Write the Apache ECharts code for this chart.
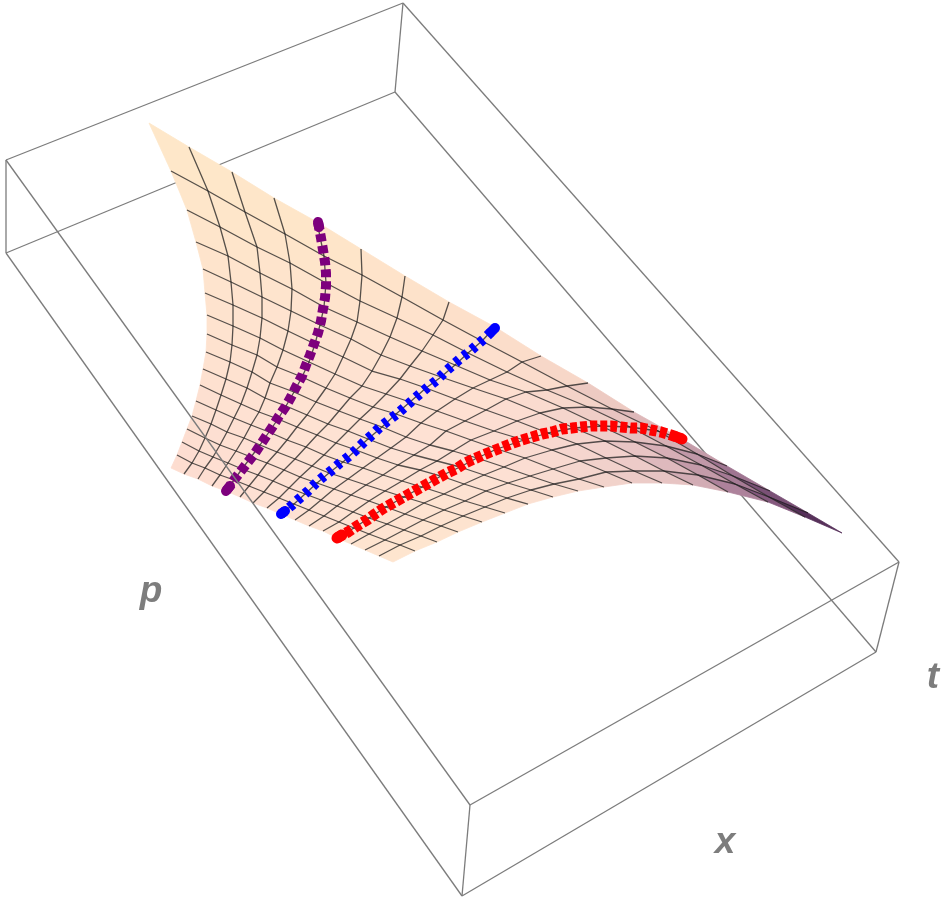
<!DOCTYPE html>
<html>
<head>
<meta charset="utf-8">
<style>
  html, body { margin: 0; padding: 0; background: #fff; }
  #chart { width: 941px; height: 901px; filter: blur(0.45px); }
</style>
<script src="https://cdn.jsdelivr.net/npm/echarts@6/dist/echarts.min.js"></script>
</head>
<body>
<div id="chart"></div>
<script>
// surface nodes, one row per constant v (v=16 down to v=0), u=0..16
const row16 = [[149,123],[189,147],[232,172],[274,198],[317,222],[361,249],[405,276],[449,302],[495,327],[541,356],[588,383],[634,412],[682,439],[727,466],[770,491],[808,513],[842,533]];
const row15 = [[171,171],[208,191],[245,212],[285,234],[324,256],[362,275],[402,297],[443,320],[482,341],[522,362],[567,386],[612,409],[658,431],[697,454],[733,476],[769,497],[805,517]];
const row14 = [[187,210],[220,227],[257,247],[290,263],[326,283],[360,301],[397,318],[433,335],[468,353],[507,372],[547,390],[588,407],[630,427],[666,446],[701,465],[735,484],[768,502]];
const row13 = [[196,242],[228,256],[260,273],[292,289],[324,307],[357,322],[390,337],[422,351],[455,365],[490,380],[526,392],[563,408],[601,426],[635,442],[667,458],[698,475],[728,492]];
const row12 = [[203,269],[231,282],[262,297],[291,311],[320,325],[351,339],[381,355],[410,366],[441,377],[473,388],[506,399],[540,413],[574,428],[605,441],[635,456],[664,471],[693,485]];
const row11 = [[205,293],[233,305],[262,318],[288,331],[315,344],[343,357],[372,371],[400,379],[426,388],[455,399],[486,410],[517,421],[548,433],[577,444],[606,458],[634,471],[662,483]];
const row10 = [[207,315],[233,326],[260,338],[283,350],[309,362],[335,374],[362,386],[386,394],[410,402],[437,411],[465,421],[494,431],[524,440],[552,450],[580,461],[606,472],[632,483]];
const row9 = [[207,334],[232,345],[257,355],[277,367],[302,377],[326,388],[350,398],[373,407],[396,414],[421,423],[446,431],[471,440],[497,449],[525,458],[553,469],[579,479],[604,487]];
const row8 = [[206,352],[230,362],[252,372],[270,383],[294,392],[316,402],[339,411],[360,419],[382,427],[406,437],[430,445],[453,451],[477,458],[504,467],[530,476],[554,484],[578,491]];
const row7 = [[203,369],[226,379],[247,388],[265,398],[286,406],[307,415],[328,424],[348,431],[368,439],[391,448],[414,455],[437,461],[460,467],[484,475],[508,483],[531,490],[553,497]];
const row6 = [[200,385],[221,395],[241,404],[259,412],[278,419],[297,427],[317,435],[336,443],[356,450],[377,458],[398,465],[420,470],[441,476],[464,484],[486,491],[507,498],[528,504]];
const row5 = [[196,401],[216,410],[234,418],[251,425],[269,432],[287,440],[306,447],[324,455],[343,462],[363,468],[383,475],[402,481],[422,487],[444,494],[465,501],[485,507],[505,513]];
const row4 = [[192,416],[211,424],[227,432],[244,438],[260,445],[277,452],[295,459],[312,466],[329,473],[348,479],[366,485],[385,491],[404,497],[424,503],[444,510],[463,516],[482,522]];
const row3 = [[187,429],[205,438],[220,445],[236,451],[251,457],[267,463],[284,470],[300,477],[317,483],[334,489],[351,495],[369,501],[386,507],[405,514],[423,520],[441,526],[458,532]];
const row2 = [[182,442],[199,451],[213,457],[228,463],[242,469],[258,475],[273,481],[289,488],[305,494],[321,500],[337,506],[353,512],[369,518],[387,524],[404,530],[421,536],[437,542]];
const row1 = [[177,455],[192,463],[205,468],[220,475],[234,480],[249,486],[264,492],[279,498],[294,504],[309,510],[324,516],[339,522],[354,528],[369,534],[385,540],[400,545],[415,551]];
const row0 = [[171,468],[184,474],[198,479],[212,486],[226,491],[240,497],[253,503],[267,508],[281,514],[295,520],[309,526],[323,531],[337,538],[351,544],[365,550],[379,556],[393,562]];
const surfaceRows = [row16,row15,row14,row13,row12,row11,row10,row9,row8,row7,row6,row5,row4,row3,row2,row1,row0];

// the three thick curves
const purpleCurve = [[318,222],[319,227],[321,238],[323,250],[325,262],[326,273],[326,286],[325,298],[323,309],[321,321],[318,333],[314,344],[310,355],[306,365],[302,376],[296,387],[291,397],[286,406],[279,416],[273,426],[267,435],[261,444],[255,453],[248,462],[241,471],[234,480],[230,486],[226,491]];
const blueCurve = [[281,514],[285,511],[291,506],[300,498],[308,491],[315,484],[323,477],[332,470],[340,463],[348,457],[356,450],[364,442],[372,435],[380,427],[389,420],[397,414],[405,407],[415,398],[428,387],[437,380],[444,373],[453,365],[461,358],[469,352],[477,345],[485,338],[491,332],[495,328]];
const redCurve = [[337,538],[342,535],[348,532],[357,526],[367,520],[375,514],[384,508],[393,503],[402,498],[411,493],[420,488],[429,483],[438,478],[447,473],[456,469],[465,463],[474,459],[483,455],[493,451],[503,447],[513,443],[522,440],[532,437],[542,434],[552,432],[562,429],[572,428],[581,427],[591,426],[601,426],[611,426],[621,427],[631,428],[641,428],[651,430],[661,432],[671,435],[677,437],[682,439]];

// wire box
const backEdges = [[[6,253],[395,92]],[[395,92],[876,652]]];
const frontEdges = [[[6,160],[403,3]],[[403,3],[395,92]],[[403,3],[899,562]],[[6,160],[6,253]],[[6,160],[470,805]],[[6,253],[462,896]],[[470,805],[462,896]],[[470,805],[899,562]],[[462,896],[876,652]],[[899,562],[876,652]]];

const axisLabels = [['p',151,592],['t',933,678],['x',725,843]];

// colours sampled from the surface
const colorU = [0,4,8,10,12,14,16];
const colorV = [16,15,14,12,8,4,0];
const colorTable = [
  ['#fee8c8','#fee6c8','#fddfc9','#f2cfc3','#d0a8b0','#704470','#2e1238'],
  ['#fee7c9','#fee5ca','#fde0cc','#f8d8ca','#dcb6b9','#a87e99','#5c3060'],
  ['#fee6ca','#fee4cb','#fee1ce','#fbdcce','#e8c4c2','#c49aa8','#8d5f86'],
  ['#fee4cd','#fee3cf','#fee2d1','#fddfd1','#f6d6ce','#efcdca','#e0bcbe'],
  ['#fee2cf','#fee2d1','#fee2d3','#fee1d4','#fedfd3','#fcdfd3','#f9ddd1'],
  ['#fddfd1','#fee1d3','#fee2d4','#fee2d3','#fee3d2','#fee3d1','#fde3cf'],
  ['#fddcd0','#fedfd2','#fee1d3','#fee2d2','#fee3d1','#fee4d0','#fee6cf']
];

function hexRgb(h) {
  return [parseInt(h.slice(1,3),16), parseInt(h.slice(3,5),16), parseInt(h.slice(5,7),16)];
}
function bracket(list, val, desc) {
  for (let i = 0; i < list.length - 1; i++) {
    const a = list[i], b = list[i+1];
    if (desc ? (val <= a && val >= b) : (val >= a && val <= b)) return [i, (val - a) / (b - a)];
  }
  return [list.length - 2, 1];
}
function cellColor(u, v) {
  const [i, fu] = bracket(colorU, u, false);
  const [j, fv] = bracket(colorV, v, true);
  const c00 = hexRgb(colorTable[j][i]), c10 = hexRgb(colorTable[j][i+1]);
  const c01 = hexRgb(colorTable[j+1][i]), c11 = hexRgb(colorTable[j+1][i+1]);
  const out = [0,1,2].map(k => Math.round(
    (c00[k]*(1-fu) + c10[k]*fu) * (1-fv) + (c01[k]*(1-fu) + c11[k]*fu) * fv));
  return `rgb(${out[0]},${out[1]},${out[2]})`;
}

const cells = [];
for (let r = 0; r < 16; r++) {
  for (let c = 0; c < 16; c++) cells.push([r, c]);
}

const series = [];

function plainLine(points, z, color, width) {
  series.push({
    type: 'line', data: points, z: z, silent: true, showSymbol: false, symbol: 'none',
    lineStyle: { color: color, width: width, cap: 'butt' }
  });
}

backEdges.forEach(e => plainLine(e, 1, '#7c7c7c', 1.3));

// filled surface
series.push({
  type: 'custom',
  z: 2,
  silent: true,
  data: cells,
  renderItem: function (params, api) {
    const r = api.value(0), c = api.value(1);
    const pts = [surfaceRows[r][c], surfaceRows[r][c+1], surfaceRows[r+1][c+1], surfaceRows[r+1][c]]
      .map(p => api.coord(p));
    const col = cellColor(c + 0.5, 16 - r - 0.5);
    return {
      type: 'polygon',
      shape: { points: pts },
      style: { fill: col, stroke: col, lineWidth: 0.8 }
    };
  }
});

// mesh lines
for (let r = 1; r < 16; r++) {
  plainLine(surfaceRows[r], 3, 'rgba(30,30,30,0.75)', 1.3);
}
for (let c = 1; c < 16; c++) {
  plainLine(surfaceRows.map(row => row[c]), 3, 'rgba(30,30,30,0.75)', 1.3);
}

function thickCurve(points, color, width, dash) {
  series.push({
    type: 'line', data: points, z: 4, silent: true, showSymbol: false, symbol: 'none',
    lineStyle: { color: color, width: width, type: dash, cap: 'butt' }
  });
  // the rounded blobs at both ends
  [points.slice(0, 2), points.slice(-2)].forEach(seg => {
    series.push({
      type: 'line', data: seg, z: 4, silent: true, showSymbol: false, symbol: 'none',
      lineStyle: { color: color, width: width, cap: 'round' }
    });
  });
}
thickCurve(purpleCurve, '#7d007d', 10, [8, 4]);
thickCurve(blueCurve, '#0000ff', 10, [5, 5.5]);
thickCurve(redCurve, '#ff0000', 11, [7, 3]);

frontEdges.forEach(e => plainLine(e, 5, '#7c7c7c', 1.3));

series.push({
  type: 'scatter', z: 6, silent: true, symbolSize: 0,
  data: axisLabels.map(a => ({ value: [a[1], a[2]], name: a[0] })),
  label: {
    show: true, position: 'inside', formatter: '{b}',
    fontFamily: 'Liberation Sans', fontStyle: 'italic', fontWeight: 'bold',
    fontSize: 37, color: '#5c5c5c'
  }
});

const chart = echarts.init(document.getElementById('chart'), null, { renderer: 'canvas' });
chart.setOption({
  animation: false,
  backgroundColor: '#ffffff',
  grid: { left: 0, right: 0, top: 0, bottom: 0 },
  xAxis: { type: 'value', min: 0, max: 941, show: false },
  yAxis: { type: 'value', min: 0, max: 901, inverse: true, show: false },
  series: series
});
</script>
</body>
</html>
